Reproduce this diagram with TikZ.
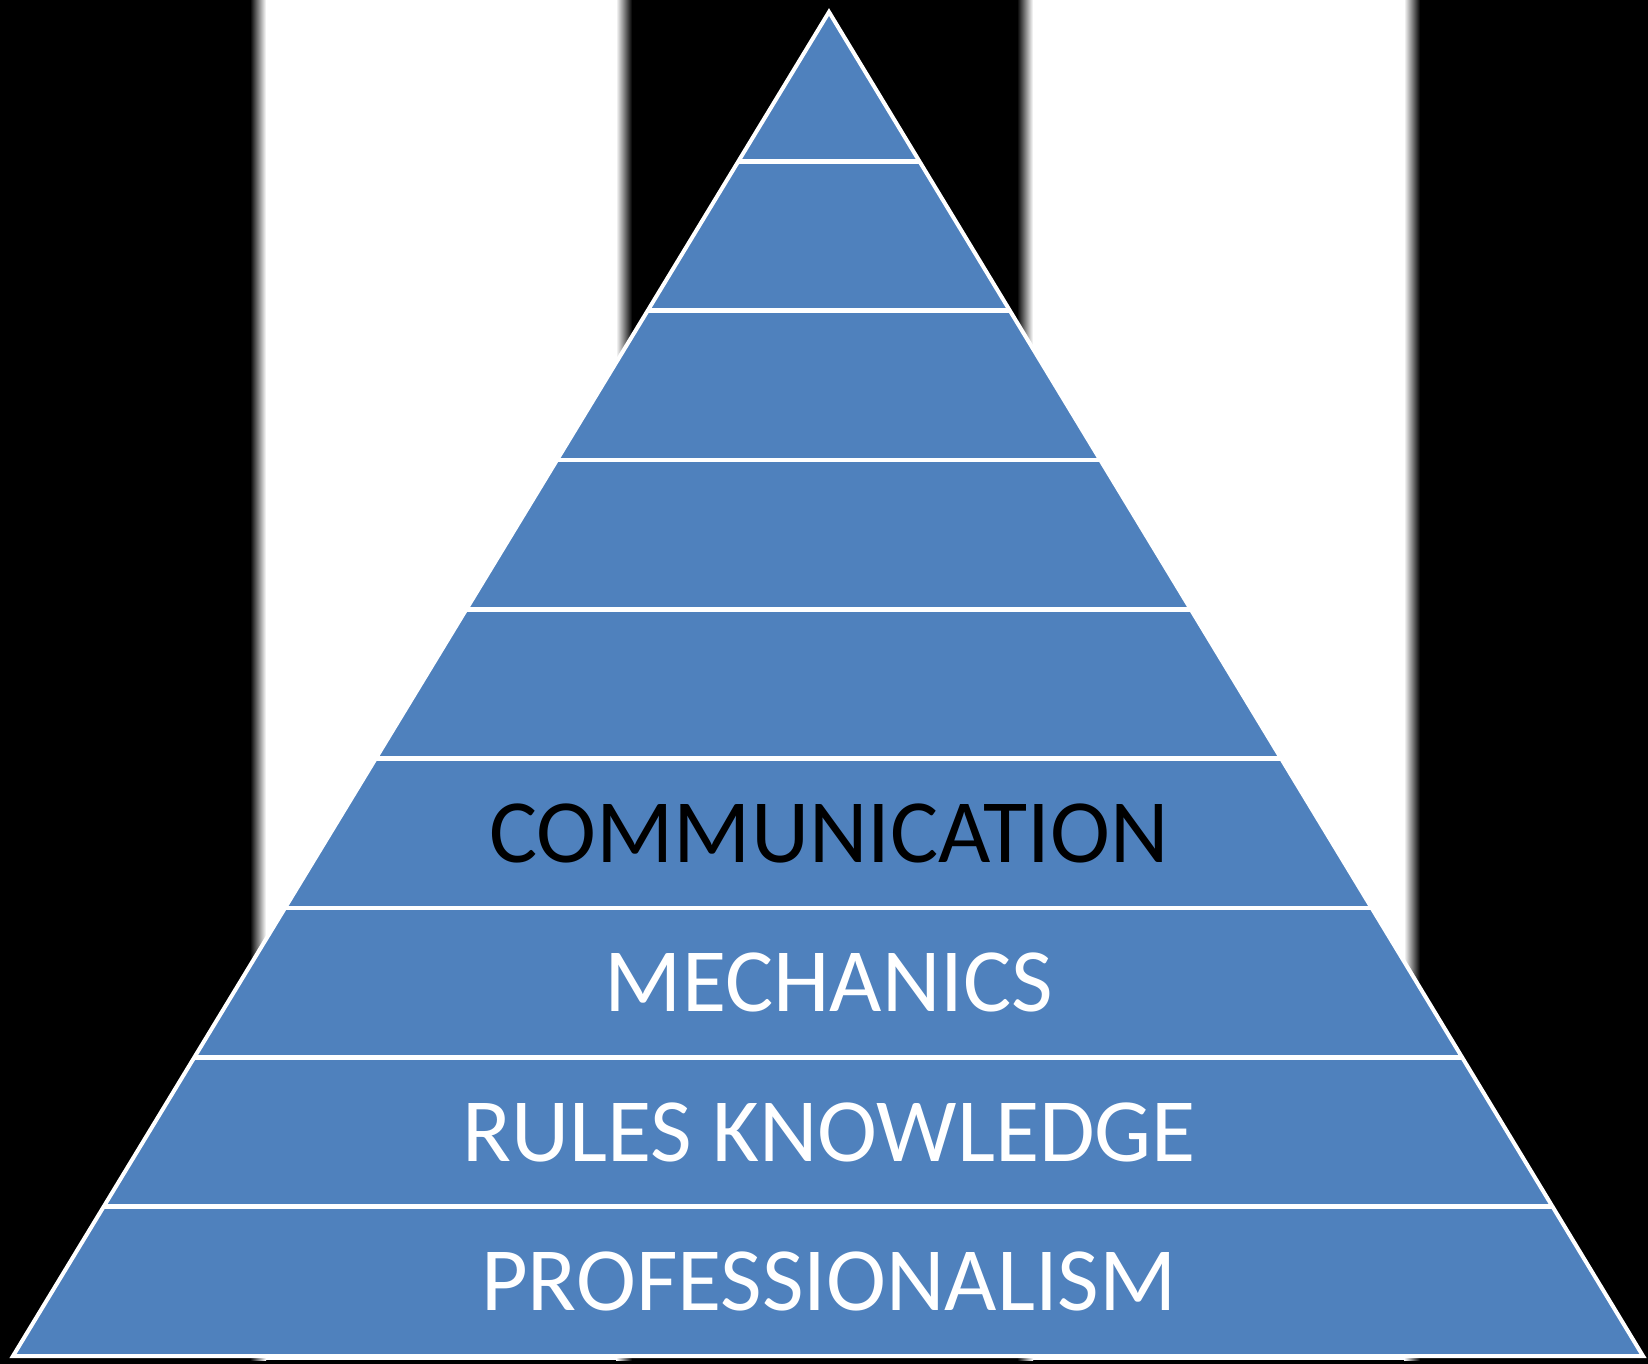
\documentclass[tikz,border=0pt]{standalone}
\usepackage{fontspec}
\setmainfont{Carlito}
\definecolor{pyrblue}{HTML}{4F81BD}
\begin{document}
\begin{tikzpicture}[x=0.5pt,y=-0.5pt,
  lvltext/.style={font=\fontsize{45.2}{50}\selectfont, inner sep=0pt, anchor=center},
  divider/.style={draw=white, line width=2.4pt},
  outline/.style={draw=white, line width=2pt, line join=miter}]
\useasboundingbox (0,0) rectangle (1648,1364);
% background
\fill[black] (0,0) rectangle (1648,1364);
% white bands with soft edges
\shade[left color=black,right color=white] (250,0) rectangle (266,1360);
\fill[white] (266,0) rectangle (616,1360);
\shade[left color=white,right color=black] (616,0) rectangle (632,1360);
\shade[left color=black,right color=white] (1017,0) rectangle (1033,1360);
\fill[white] (1033,0) rectangle (1404,1360);
\shade[left color=white,right color=black] (1404,0) rectangle (1420,1360);
% pyramid
\coordinate (apex) at (829,12);
\coordinate (bl) at (13,1356);
\coordinate (br) at (1643,1356);
\fill[pyrblue] (apex) -- (br) -- (bl) -- cycle;
\foreach \k in {1,...,8} {
  \pgfmathsetmacro\yy{12+\k*149.333}
  \pgfmathsetmacro\hw{815*\k/9}
  \coordinate (dl\k) at ({829-\hw},\yy);
  \coordinate (dr\k) at ({829+\hw},\yy);
  \draw[divider] (dl\k) -- (dr\k);
}
\draw[outline] (apex) -- (br) -- (bl) -- cycle;
% labels
\node[lvltext, text=black] (comm) at (829,833.3) {COMMUNICATION};
\node[lvltext, text=white] (mech) at (829,982.7) {MECHANICS};
\node[lvltext, text=white] (rules) at (829,1132) {RULES KNOWLEDGE};
\node[lvltext, text=white] (prof) at (829,1281.3) {PROFESSIONALISM};
\end{tikzpicture}
\end{document}
